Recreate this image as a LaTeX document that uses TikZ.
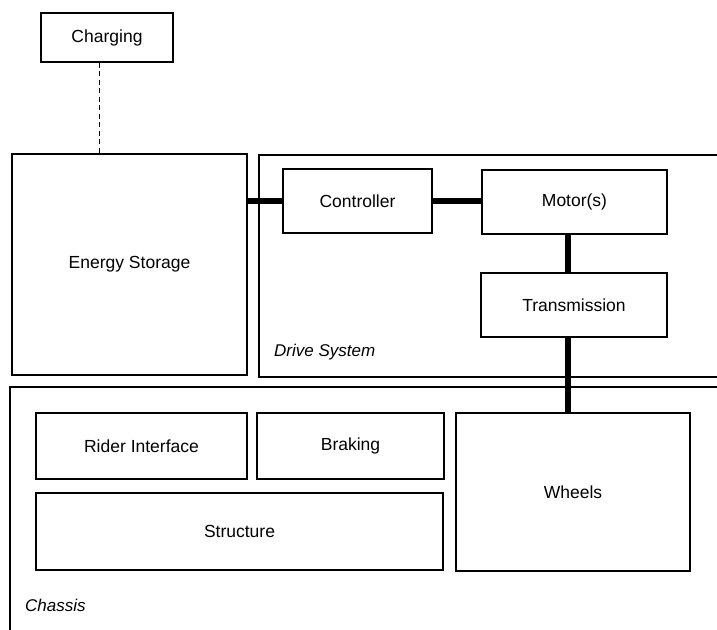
\documentclass[tikz,border=0pt]{standalone}
\usepackage{fontspec}
\setmainfont{Liberation Sans}
\begin{document}
\begin{tikzpicture}[x=1pt,y=-1pt,
  box/.style={draw, line width=1.2pt, rectangle, inner sep=0pt, font=\fontsize{17.5}{20}\selectfont},
  grp/.style={draw, line width=1.4pt, rectangle, inner sep=0pt},
  lbl/.style={anchor=west, inner sep=0pt, font=\fontsize{17}{20}\selectfont\itshape},
  link/.style={line width=5.5pt},
  dlink/.style={line width=1pt, dash pattern=on 5pt off 3.5pt}]
\useasboundingbox (0,0) rectangle (717,629);
\clip (0,0) rectangle (717,629);
\fill[white] (0,0) rectangle (717,629);
% groups
\node[grp, minimum width=501pt, minimum height=222pt] (drive) at (509.5,266) {};
\node[grp, minimum width=750pt, minimum height=293pt] (chassis) at (385,533.5) {};
% boxes
\node[box, minimum width=132pt, minimum height=49pt] (charging) at (107,37.5) {Charging};
\node[box, minimum width=235pt, minimum height=221pt] (es) at (129.5,264.5) {Energy Storage};
\node[box, minimum width=149pt, minimum height=64pt] (ctrl) at (357.5,201) {Controller};
\node[box, minimum width=185pt, minimum height=64pt] (motor) at (574.5,202) {Motor(s)};
\node[box, minimum width=186pt, minimum height=64pt] (trans) at (574,305) {Transmission};
\node[box, minimum width=211pt, minimum height=66pt] (rider) at (141.5,446) {Rider Interface};
\node[box, minimum width=187pt, minimum height=66pt] (brake) at (350.5,446) {Braking};
\node[box, minimum width=407pt, minimum height=77pt] (struct) at (239.5,531.5) {Structure};
\node[box, minimum width=234pt, minimum height=158pt] (wheels) at (573,492) {Wheels};
% labels
\node[lbl] (dslbl) at (274,352) {Drive System};
\node[lbl] (chlbl) at (25,605) {Chassis};
% connectors
\draw[dlink] ([xshift=-8pt]charging.south) -- ([xshift=-8pt]charging.south |- es.north);
\draw[link] (es.east |- ctrl.west) -- (ctrl.west);
\draw[link] (ctrl.east) -- (ctrl.east -| motor.west);
\draw[link] ([xshift=-6.5pt]motor.south) -- ([xshift=-6.5pt]motor.south |- trans.north);
\draw[link] ([xshift=-6pt]trans.south) -- ([xshift=-6pt]trans.south |- wheels.north);
\end{tikzpicture}
\end{document}
